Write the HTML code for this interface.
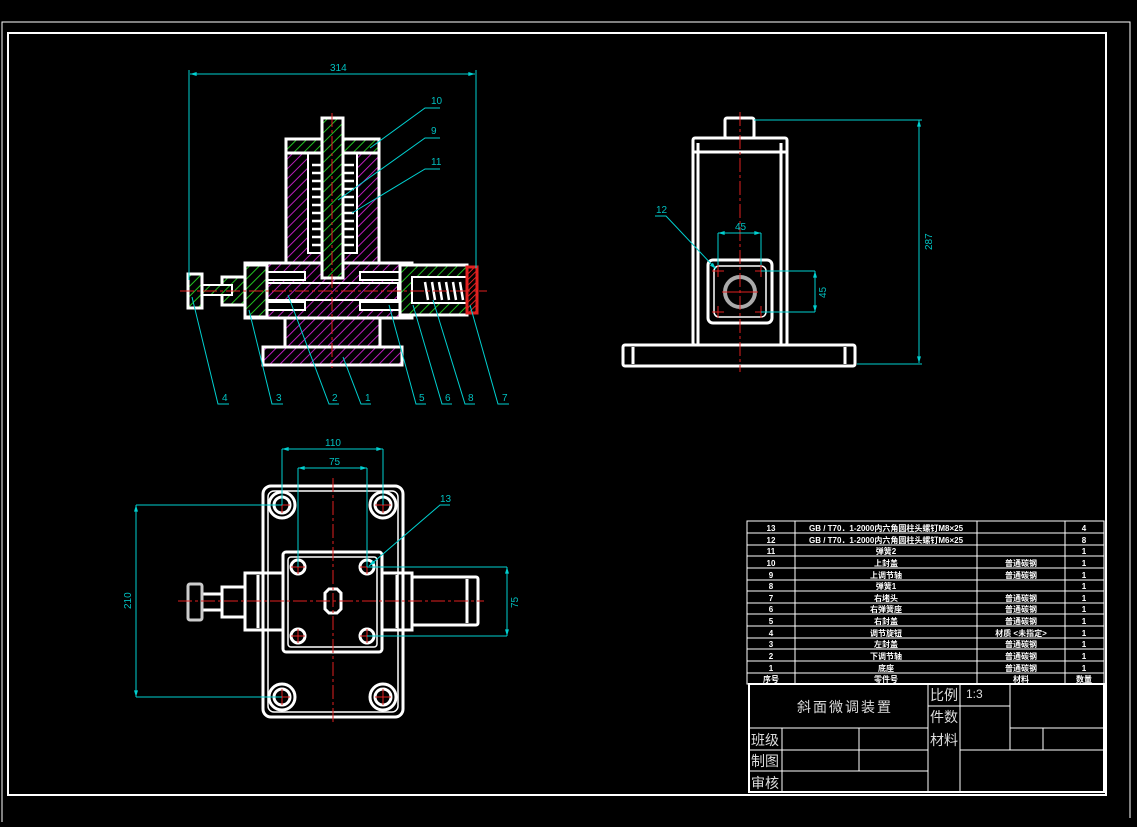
<!DOCTYPE html>
<html><head><meta charset="utf-8"><style>
html,body{margin:0;padding:0;background:#000;width:1137px;height:827px;overflow:hidden}
svg{display:block}
text{font-family:"Liberation Sans","Noto Sans CJK SC",sans-serif}
</style></head><body>
<svg width="1137" height="827" viewBox="0 0 1137 827" xmlns="http://www.w3.org/2000/svg">
<defs>
<pattern id="mg" width="7" height="7" patternUnits="userSpaceOnUse" patternTransform="rotate(45)"><rect width="7" height="7" fill="#000"/><line x1="0" y1="0" x2="0" y2="7" stroke="#d020d0" stroke-width="1.8"/></pattern>
<pattern id="gr" width="7" height="7" patternUnits="userSpaceOnUse" patternTransform="rotate(45)"><rect width="7" height="7" fill="#000"/><line x1="0" y1="0" x2="0" y2="7" stroke="#20c020" stroke-width="2"/></pattern>
<pattern id="rd" width="4" height="4" patternUnits="userSpaceOnUse" patternTransform="rotate(45)"><rect width="4" height="4" fill="#000"/><line x1="0" y1="0" x2="0" y2="4" stroke="#e02020" stroke-width="2"/></pattern>
<marker id="ar" viewBox="0 0 10 6" refX="10" refY="3" markerWidth="10" markerHeight="4" orient="auto-start-reverse" markerUnits="userSpaceOnUse"><path d="M0 0L10 3L0 6z" fill="#00d0d0"/></marker>
</defs>
<g fill="none" stroke="#fff">
<path d="M2 822 V22 H1130 V818" stroke-width="1"/>
<rect x="8" y="33" width="1098" height="762" stroke-width="2"/>
</g>

<!-- MAIN SECTION VIEW -->
<g stroke="#fff" stroke-width="3">
<rect x="286" y="153" width="93" height="110" fill="url(#mg)"/>
<rect x="245" y="263" width="167" height="55" fill="url(#mg)"/>
<rect x="285" y="318" width="95" height="29" fill="url(#mg)"/>
<rect x="263" y="347" width="139" height="18" fill="url(#mg)"/>
<rect x="308" y="153" width="49" height="100" fill="#000" stroke-width="2"/>
<rect x="286" y="139" width="93" height="14" fill="url(#gr)"/>
<rect x="322" y="118" width="21" height="160" fill="url(#gr)"/>
<rect x="255" y="272" width="50" height="8" fill="#000" stroke-width="2"/>
<rect x="255" y="302" width="50" height="8" fill="#000" stroke-width="2"/>
<rect x="360" y="272" width="40" height="8" fill="#000" stroke-width="2"/>
<rect x="360" y="302" width="40" height="8" fill="#000" stroke-width="2"/>
<rect x="258" y="283" width="140" height="17" fill="url(#mg)" stroke-width="2"/>
<rect x="222" y="277" width="23" height="28" fill="url(#gr)"/>
<rect x="245" y="265" width="22" height="52" fill="url(#gr)"/>
<rect x="202" y="285" width="30" height="10" fill="url(#gr)" stroke-width="2"/>
<rect x="188" y="274" width="14" height="34" fill="url(#gr)"/>
<rect x="400" y="265" width="67" height="50" fill="url(#gr)"/>
<rect x="412" y="277" width="55" height="26" fill="#000" stroke-width="2"/>
<rect x="467" y="267" width="10" height="46" fill="url(#rd)" stroke="#e02020"/>
</g>
<g stroke="#fff" stroke-width="2.5">
<path d="M312 165h9M312 173h9M312 181h9M312 189h9M312 197h9M312 205h9M312 213h9M312 221h9M312 229h9M312 237h9M312 245h9"/>
<path d="M344 165h10M344 173h10M344 181h10M344 189h10M344 197h10M344 205h10M344 213h10M344 221h10M344 229h10M344 237h10M344 245h10"/>
<path d="M425 282l3 18M432 282l3 18M439 282l3 18M446 282l3 18M453 282l3 18M460 282l3 18"/>
</g>
<g stroke="#e02020" stroke-width="1" stroke-dasharray="14,3,3,3">
<line x1="332" y1="113" x2="332" y2="368"/>
<line x1="180" y1="291" x2="487" y2="291"/>
</g>
<g stroke="#00d0d0" stroke-width="1" fill="none">
<line x1="190" y1="74" x2="475" y2="74" marker-start="url(#ar)" marker-end="url(#ar)"/>
<line x1="189" y1="70" x2="189" y2="280"/>
<line x1="476" y1="70" x2="476" y2="268"/>
<path d="M370 148L425 108H440M338 200L425 138H440M352 213L425 169H440"/>
<path d="M192 297L218 404H229M249 310L272 404H283M288 295L329 404H339M343 357L361 404H371M389 305L416 404H426M413 305L442 404H452M433 300L465 404H475M470 305L498 404H509"/>
</g>
<g fill="#00c0c0" font-size="10">
<text x="330" y="71">314</text>
<text x="431" y="104">10</text><text x="431" y="134">9</text><text x="431" y="165">11</text>
<text x="222" y="401">4</text><text x="276" y="401">3</text><text x="332" y="401">2</text><text x="365" y="401">1</text>
<text x="419" y="401">5</text><text x="445" y="401">6</text><text x="468" y="401">8</text><text x="502" y="401">7</text>
</g>

<!-- RIGHT VIEW -->
<g stroke="#fff" stroke-width="3" fill="none">
<rect x="725" y="118" width="29" height="20" rx="2"/>
<rect x="693" y="138" width="94" height="207" rx="2"/>
<line x1="698" y1="143" x2="698" y2="345"/><line x1="781" y1="143" x2="781" y2="345"/>
<line x1="693" y1="152" x2="787" y2="152"/>
<rect x="623" y="345" width="232" height="21" rx="2"/>
<line x1="633" y1="347" x2="633" y2="364"/><line x1="845" y1="347" x2="845" y2="364"/>
<rect x="708" y="260" width="64" height="63" rx="5"/>
<rect x="714" y="266" width="52" height="51" rx="5" stroke-width="1.5"/>
<circle cx="740" cy="292" r="15" stroke="#aaa" stroke-width="4"/>
</g>
<g stroke="#e02020" stroke-width="1">
<line x1="740" y1="112" x2="740" y2="372" stroke-dasharray="14,3,3,3"/>
<path d="M712 271h12M718 265v12M755 271h12M761 265v12M712 312h12M718 306v12M755 312h12M761 306v12M722 292h36"/>
</g>
<g stroke="#00d0d0" stroke-width="1" fill="none">
<path d="M754 120H922M857 364H922M718 265V233M761 265V233M761 271H815M761 312H815"/>
<line x1="919" y1="120" x2="919" y2="363" marker-start="url(#ar)" marker-end="url(#ar)"/>
<line x1="718" y1="233" x2="761" y2="233" marker-start="url(#ar)" marker-end="url(#ar)"/>
<line x1="815" y1="271" x2="815" y2="312" marker-start="url(#ar)" marker-end="url(#ar)"/>
<path d="M655 216H666L716 269" marker-end="url(#ar)"/>
</g>
<g fill="#00c0c0" font-size="10">
<text x="735" y="230">45</text><text x="656" y="213">12</text>
<text transform="translate(932,250) rotate(-90)">287</text>
<text transform="translate(826,298) rotate(-90)">45</text>
</g>

<!-- BOTTOM VIEW -->
<g stroke="#fff" stroke-width="3" fill="none">
<rect x="263" y="486" width="140" height="231" rx="8"/>
<rect x="268" y="491" width="130" height="221" rx="6" stroke-width="1.5"/>
<rect x="283" y="552" width="99" height="100" rx="3"/>
<rect x="288" y="557" width="89" height="90" rx="3" stroke-width="1.5"/>
<rect x="245" y="573" width="38" height="57"/>
<line x1="258" y1="575" x2="258" y2="628"/>
<rect x="222" y="587" width="23" height="30"/>
<rect x="202" y="594" width="20" height="16"/>
<rect x="188" y="584" width="14" height="36" rx="2" stroke="#ccc"/>
<rect x="382" y="573" width="30" height="57"/>
<line x1="397" y1="575" x2="397" y2="628"/>
<rect x="412" y="577" width="66" height="48" rx="2"/>
<line x1="467" y1="579" x2="467" y2="623"/>
<path d="M325 593l4-4h8l4 4v16l-4 4h-8l-4-4z"/>
<circle cx="282" cy="505" r="13"/><circle cx="282" cy="505" r="8"/>
<circle cx="383" cy="505" r="13"/><circle cx="383" cy="505" r="8"/>
<circle cx="282" cy="697" r="13"/><circle cx="282" cy="697" r="8"/>
<circle cx="383" cy="697" r="13"/><circle cx="383" cy="697" r="8"/>
<circle cx="298" cy="567" r="7"/><circle cx="367" cy="567" r="7"/>
<circle cx="298" cy="636" r="7"/><circle cx="367" cy="636" r="7"/>
</g>
<g stroke="#e02020" stroke-width="1">
<line x1="333" y1="478" x2="333" y2="722" stroke-dasharray="14,3,3,3"/>
<line x1="178" y1="601" x2="484" y2="601" stroke-dasharray="14,3,3,3"/>
<path d="M274 505h16M282 497v16M375 505h16M383 497v16M274 697h16M282 689v16M375 697h16M383 689v16M291 567h14M298 560v14M360 567h14M367 560v14M291 636h14M298 629v14M360 636h14M367 629v14"/>
</g>
<g stroke="#00d0d0" stroke-width="1" fill="none">
<path d="M282 505V449M383 505V449M298 567V468M367 567V468M282 505H136M282 697H136M367 567H507M367 636H507"/>
<line x1="282" y1="449" x2="383" y2="449" marker-start="url(#ar)" marker-end="url(#ar)"/>
<line x1="298" y1="468" x2="367" y2="468" marker-start="url(#ar)" marker-end="url(#ar)"/>
<line x1="136" y1="505" x2="136" y2="697" marker-start="url(#ar)" marker-end="url(#ar)"/>
<line x1="507" y1="567" x2="507" y2="636" marker-start="url(#ar)" marker-end="url(#ar)"/>
<path d="M450 505H440L369 566" marker-end="url(#ar)"/>
</g>
<g fill="#00c0c0" font-size="10">
<text x="325" y="446">110</text><text x="329" y="465">75</text><text x="440" y="502">13</text>
<text transform="translate(131,609) rotate(-90)">210</text>
<text transform="translate(518,608) rotate(-90)">75</text>
</g>

<!-- PARTS TABLE -->
<g stroke="#fff" stroke-width="1" fill="none">
<rect x="747" y="521" width="357" height="163"/>
<path d="M747 533H1104M747 545H1104M747 556H1104M747 568H1104M747 580H1104M747 591H1104M747 603H1104M747 614H1104M747 626H1104M747 638H1104M747 649H1104M747 661H1104M747 673H1104"/>
<path d="M795 521V684M977 521V684M1065 521V684"/>
<rect x="749" y="684" width="355" height="108" stroke-width="2"/>
<path d="M749 728H928M1010 728H1104M749 750H928M749 771H928M782 728V792M859 728V771M928 684V792M960 684V792M1010 684V750M1043 728V750M928 706H1010M960 750H1104"/>
</g>
<g fill="#fff" font-size="8" font-weight="bold" text-anchor="middle">
<text x="771" y="531">13</text><text x="886" y="531">GB / T70．1-2000内六角圆柱头螺钉M8×25</text><text x="1084" y="531">4</text>
<text x="771" y="543">12</text><text x="886" y="543">GB / T70．1-2000内六角圆柱头螺钉M6×25</text><text x="1084" y="543">8</text>
<text x="771" y="554">11</text><text x="886" y="554">弹簧2</text><text x="1084" y="554">1</text>
<text x="771" y="566">10</text><text x="886" y="566">上封盖</text><text x="1021" y="566">普通碳钢</text><text x="1084" y="566">1</text>
<text x="771" y="578">9</text><text x="886" y="578">上调节轴</text><text x="1021" y="578">普通碳钢</text><text x="1084" y="578">1</text>
<text x="771" y="589">8</text><text x="886" y="589">弹簧1</text><text x="1084" y="589">1</text>
<text x="771" y="601">7</text><text x="886" y="601">右堵头</text><text x="1021" y="601">普通碳钢</text><text x="1084" y="601">1</text>
<text x="771" y="612">6</text><text x="886" y="612">右弹簧座</text><text x="1021" y="612">普通碳钢</text><text x="1084" y="612">1</text>
<text x="771" y="624">5</text><text x="886" y="624">右封盖</text><text x="1021" y="624">普通碳钢</text><text x="1084" y="624">1</text>
<text x="771" y="636">4</text><text x="886" y="636">调节旋钮</text><text x="1021" y="636">材质 &lt;未指定&gt;</text><text x="1084" y="636">1</text>
<text x="771" y="647">3</text><text x="886" y="647">左封盖</text><text x="1021" y="647">普通碳钢</text><text x="1084" y="647">1</text>
<text x="771" y="659">2</text><text x="886" y="659">下调节轴</text><text x="1021" y="659">普通碳钢</text><text x="1084" y="659">1</text>
<text x="771" y="671">1</text><text x="886" y="671">底座</text><text x="1021" y="671">普通碳钢</text><text x="1084" y="671">1</text>
<text x="771" y="682">序号</text><text x="886" y="682">零件号</text><text x="1021" y="682">材料</text><text x="1084" y="682">数量</text>
</g>
<g fill="#ddd" font-size="14" font-family="'Noto Serif CJK SC',serif">
<text x="797" y="712" letter-spacing="2">斜面微调装置</text>
<text x="930" y="700">比例</text><text x="930" y="722">件数</text><text x="930" y="745">材料</text>
<text x="751" y="745">班级</text><text x="751" y="766">制图</text><text x="751" y="788">审核</text>
<text x="966" y="698" font-size="12">1:3</text>
</g>
</svg>
</body></html>
